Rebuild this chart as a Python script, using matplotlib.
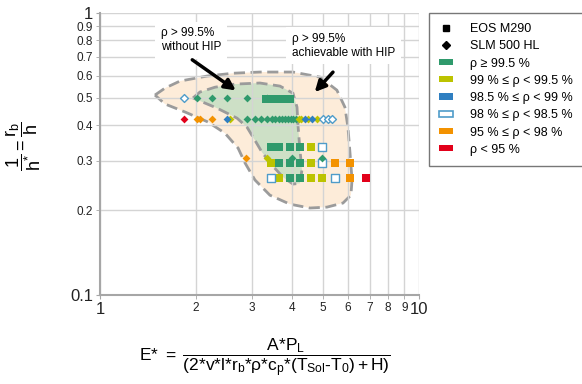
import matplotlib
matplotlib.use('Agg')
import matplotlib.pyplot as plt
from matplotlib.lines import Line2D
from matplotlib.patches import Patch

plt.rcParams['font.family'] = ['Liberation Sans', 'DejaVu Sans']
plt.rcParams['mathtext.fontset'] = 'custom'
plt.rcParams['mathtext.rm'] = 'Liberation Sans'
plt.rcParams['mathtext.it'] = 'Liberation Sans'
plt.rcParams['mathtext.bf'] = 'Liberation Sans:bold'

# density classes
categories = ['g', 'y', 'b', 'o', 'or', 'r']
cat_colors = {'g': '#2f9a6c', 'y': '#bcc300', 'b': '#2f7fc1', 'o': '#4f9cc9',
              'or': '#f39200', 'r': '#e2001a'}
cat_labels = ['ρ ≥ 99.5 %', '99 % ≤ ρ < 99.5 %', '98.5 % ≤ ρ < 99 %',
              '98 % ≤ ρ < 98.5 %', '95 % ≤ ρ < 98 %', 'ρ < 95 %']

# EOS M290 (squares)
eos_x = [3.32, 3.40, 3.48, 3.56, 3.64, 3.72, 3.80, 3.88, 3.95,
         3.43, 3.65, 3.94, 4.24, 4.58, 4.95,
         3.43, 3.65, 3.94, 4.24, 4.58, 4.95, 5.45, 6.08,
         3.43, 3.65, 3.94, 4.24, 4.58, 4.95, 5.45, 6.08, 6.82]
eos_y = [0.495] * 9 + [0.334] * 6 + [0.293] * 8 + [0.261] * 9
eos_cat = ['g'] * 9 + \
          ['g', 'g', 'g', 'g', 'y', 'o'] + \
          ['y', 'g', 'g', 'g', 'y', 'o', 'or', 'or'] + \
          ['o', 'y', 'g', 'g', 'y', 'y', 'o', 'or', 'r']

# SLM 500 HL (diamonds)
slm_x = [1.84, 2.02, 2.24, 2.51, 2.88, 3.33,
         1.83, 2.02, 2.06, 2.24, 2.51, 2.56,
         2.90, 3.06, 3.19, 3.33, 3.45, 3.55, 3.63, 3.72, 3.80, 3.88, 3.96, 4.04, 4.12,
         4.20, 4.27, 4.40, 4.50, 4.62, 4.80, 5.00, 5.17, 5.35,
         2.87, 3.33, 4.01, 4.97]
slm_y = [0.50] * 6 + [0.42] * 28 + [0.305] * 4
slm_cat = ['o', 'g', 'g', 'g', 'g', 'g',
           'r', 'or', 'or', 'or', 'b', 'y'] + ['g'] * 13 + \
          ['y', 'y', 'b', 'y', 'b', 'y', 'o', 'o', 'o',
           'or', 'y', 'g', 'g']

# process windows
outer_x = [1.487, 1.599, 1.781, 2.165, 2.612, 3.174, 4.027, 4.894, 5.53, 5.86, 5.99,
           6.08, 6.17, 6.12, 5.78, 5.15, 4.55, 3.94, 3.41, 3.06, 2.85, 2.71, 2.465,
           2.18, 1.847, 1.599]
outer_y = [0.512, 0.542, 0.574, 0.598, 0.612, 0.618, 0.618, 0.593, 0.533, 0.464, 0.394,
           0.319, 0.256, 0.226, 0.212, 0.205, 0.2035, 0.210, 0.226, 0.256, 0.294, 0.332,
           0.375, 0.411, 0.446, 0.476]
inner_x = [1.957, 2.058, 2.294, 2.65, 3.174, 3.667, 4.027, 4.147, 4.176, 4.236, 4.298,
           4.236, 4.027, 3.747, 3.46, 3.22, 3.06, 2.89, 2.69, 2.33, 2.058]
inner_y = [0.500, 0.525, 0.546, 0.560, 0.565, 0.551, 0.520, 0.464, 0.401, 0.327, 0.278,
           0.249, 0.2475, 0.262, 0.289, 0.321, 0.354, 0.394, 0.424, 0.460, 0.488]

fig = plt.figure(figsize=(5.82, 3.84), dpi=100)
ax = fig.add_axes([0.1718, 0.2318, 0.548, 0.734])
ax.set_xscale('log')
ax.set_yscale('log')
ax.set_xlim(1, 10)
ax.set_ylim(0.1, 1)

ax.fill(outer_x, outer_y, facecolor='#fdecd9', edgecolor='#9b9b9b', lw=2,
        ls=(0, (4, 2)), zorder=0.2)
ax.fill(inner_x, inner_y, facecolor='#cde0c6', edgecolor='#9b9b9b', lw=2,
        ls=(0, (4, 2)), zorder=0.3)


def draw(xs, ys, cats, marker, size):
    for c in categories:
        px = [x for x, k in zip(xs, cats) if k == c]
        py = [y for y, k in zip(ys, cats) if k == c]
        if not px:
            continue
        if c == 'o':
            ax.scatter(px, py, marker=marker, s=size, facecolor='white',
                       edgecolor=cat_colors[c], linewidth=1, zorder=3)
        else:
            ax.scatter(px, py, marker=marker, s=size, color=cat_colors[c],
                       linewidth=0, zorder=3)


draw(eos_x, eos_y, eos_cat, 's', 36)
draw(slm_x, slm_y, slm_cat, 'D', 16)

# grid and axes
ax.set_axisbelow(True)
ax.grid(True, which='both', color='#d4d4d4', lw=1)
for s in ['top', 'right']:
    ax.spines[s].set_visible(False)
for s in ['left', 'bottom']:
    ax.spines[s].set_color('#a6a6a6')
    ax.spines[s].set_linewidth(1.5)

ax.set_xticks([1, 10])
ax.set_xticklabels(['1', '10'], fontsize=12)
ax.set_xticks([2, 3, 4, 5, 6, 7, 8, 9], minor=True)
ax.set_xticklabels(['2', '3', '4', '5', '6', '7', '8', '9'], minor=True, fontsize=8.5)
ax.set_yticks([0.1, 1])
ax.set_yticklabels(['0.1', '1'], fontsize=12)
ax.set_yticks([0.2, 0.3, 0.4, 0.5, 0.6, 0.7, 0.8, 0.9], minor=True)
ax.set_yticklabels(['0.2', '0.3', '0.4', '0.5', '0.6', '0.7', '0.8', '0.9'], minor=True,
                   fontsize=8.5)
ax.tick_params(which='both', length=3, color='#a6a6a6', labelcolor='#222222', pad=2)

# annotations
box = dict(facecolor='white', edgecolor='none', pad=4)
ax.text(1.553, 0.89, 'ρ > 99.5%\nwithout HIP', fontsize=8.5, va='top', ha='left',
        bbox=box, zorder=4, linespacing=1.2)
ax.text(4.0, 0.85, 'ρ > 99.5%\nachievable with HIP', fontsize=8.5, va='top', ha='left',
        bbox=box, zorder=4, linespacing=1.2)
arrow = dict(arrowstyle='-|>', lw=2.5, color='black', mutation_scale=16)
ax.annotate('', xy=(2.71, 0.525), xytext=(1.915, 0.692), arrowprops=arrow, zorder=5)
ax.annotate('', xy=(4.65, 0.516), xytext=(5.45, 0.628), arrowprops=arrow, zorder=5)

# axis labels
fig.text(0.04, 0.62, r'$\dfrac{1}{\mathrm{h}^{*}} = \dfrac{r_b}{h}$', rotation=90,
         fontsize=13, ha='center', va='center')
fig.text(0.455, 0.068,
         r'$E{*}\ =\ \dfrac{A{*}P_L}{(2{*}v{*}l{*}r_b{*}\rho{*}c_p{*}(T_{Sol}\text{-}T_0)+H)}$',
         fontsize=12.5, ha='center', va='center')

# legend
handles = [Line2D([], [], marker='s', color='black', ls='none', ms=5),
           Line2D([], [], marker='D', color='black', ls='none', ms=4.5)]
for c in categories:
    if c == 'o':
        handles.append(Patch(facecolor='white', edgecolor=cat_colors[c], lw=1.2))
    else:
        handles.append(Patch(facecolor=cat_colors[c], edgecolor='none'))
labels = ['EOS M290', 'SLM 500 HL'] + cat_labels
fig.legend(handles, labels, loc='upper left', bbox_to_anchor=(0.737, 0.966),
           fontsize=9, frameon=True, fancybox=False, edgecolor='#555555',
           handlelength=1.1, handleheight=0.4, handletextpad=1.4, labelspacing=0.42,
           borderpad=0.8, borderaxespad=0)

fig.savefig('out.png', dpi=100)
